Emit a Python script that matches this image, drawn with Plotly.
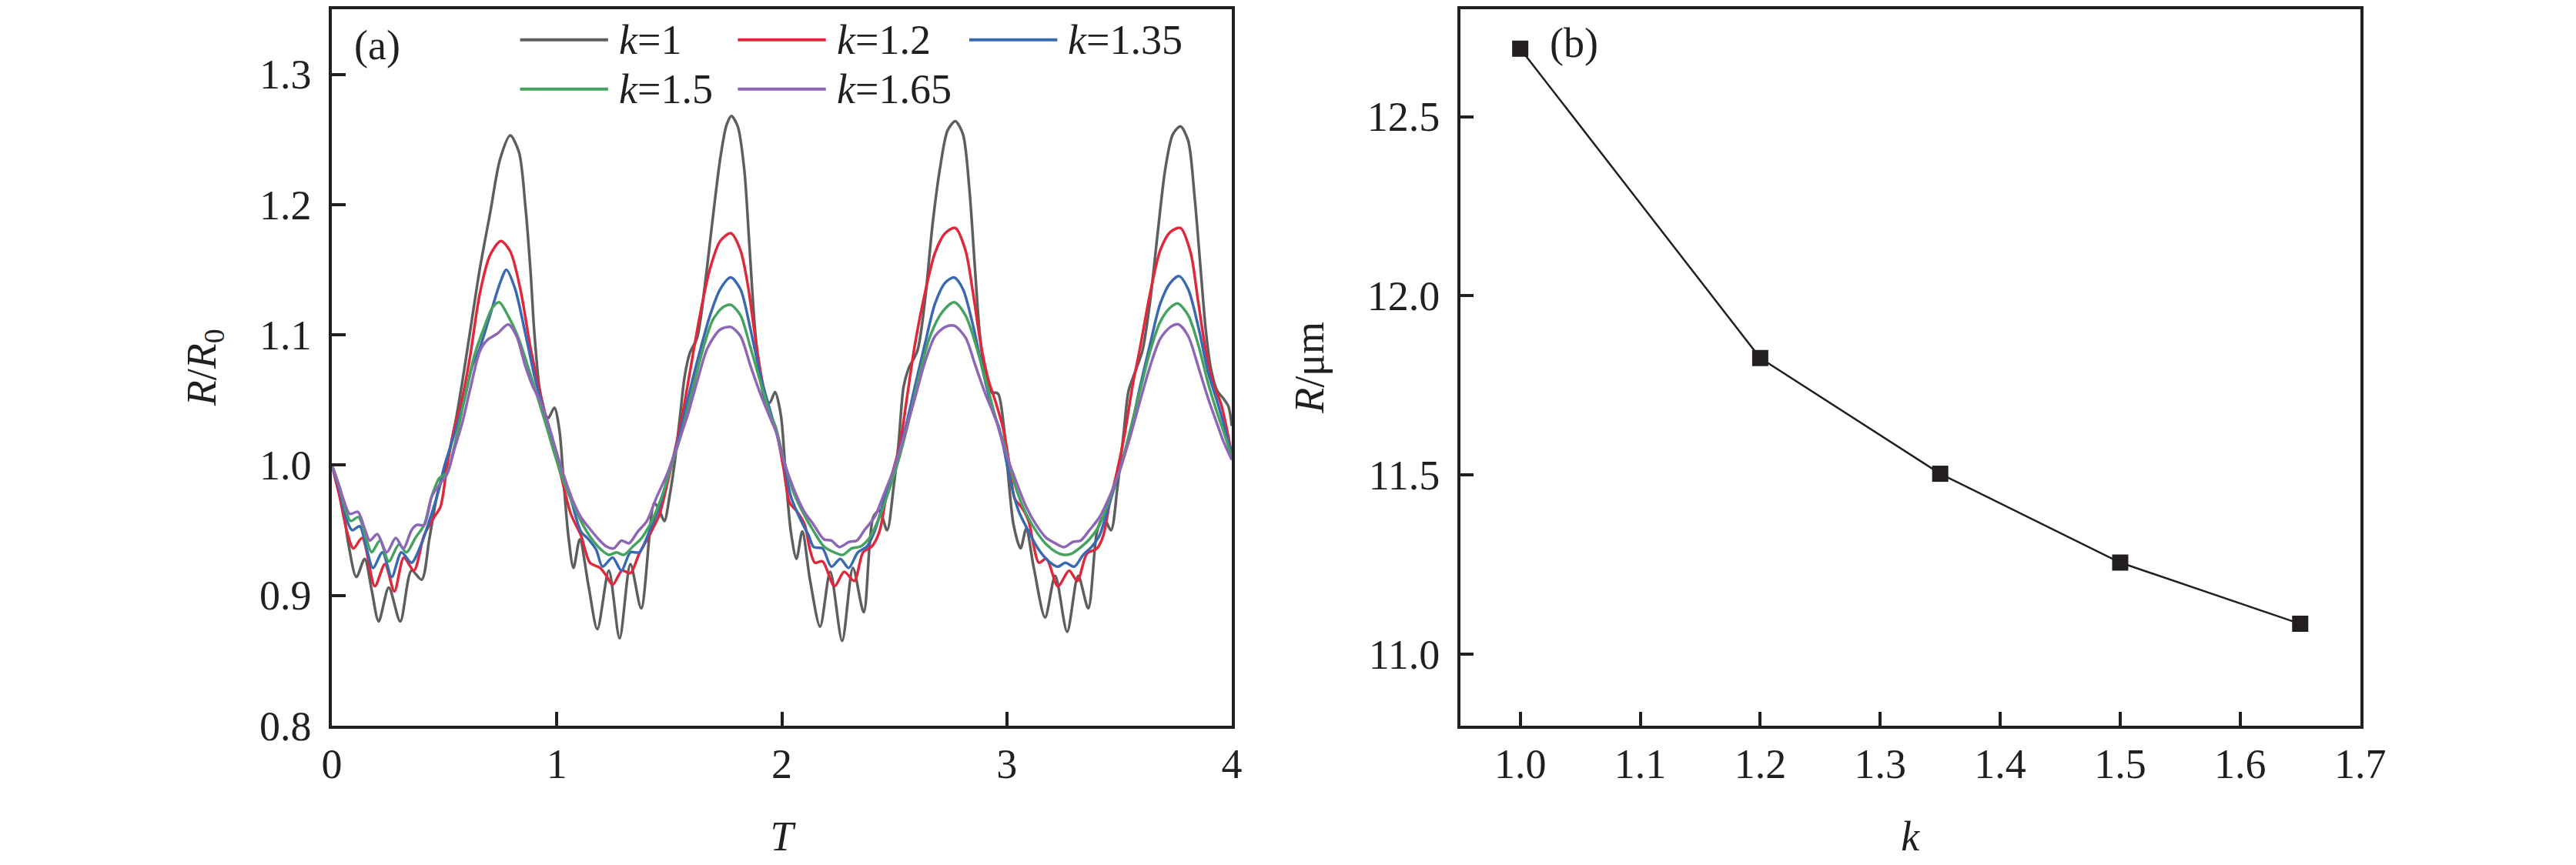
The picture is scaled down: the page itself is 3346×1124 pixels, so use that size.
import plotly.graph_objects as go

# ---- panel (a): R/R0 versus T for five k values ----
T_K1 = [0, 0.039, 0.073, 0.109, 0.146, 0.177, 0.208, 0.253, 0.304, 0.354, 0.399, 0.433, 0.467,
        0.506, 0.545, 0.579, 0.613, 0.658, 0.703, 0.748, 0.793, 0.832, 0.860, 0.883, 0.899, 0.922,
        0.944, 0.962, 0.989, 1.012, 1.029, 1.051, 1.074, 1.102, 1.141, 1.180, 1.231, 1.279, 1.327,
        1.375, 1.433, 1.456, 1.478, 1.501, 1.523, 1.546, 1.568, 1.591, 1.624, 1.658, 1.692, 1.726,
        1.754, 1.776, 1.804, 1.833, 1.855, 1.878, 1.900, 1.928, 1.947, 1.970, 1.996, 2.018, 2.040,
        2.065, 2.091, 2.125, 2.170, 2.215, 2.268, 2.316, 2.364, 2.406, 2.434, 2.468, 2.496, 2.518,
        2.541, 2.563, 2.603, 2.636, 2.670, 2.704, 2.737, 2.771, 2.805, 2.833, 2.856, 2.878, 2.901,
        2.929, 2.960, 2.985, 3.007, 3.030, 3.061, 3.086, 3.120, 3.170, 3.215, 3.268, 3.317, 3.362,
        3.401, 3.429, 3.463, 3.491, 3.519, 3.541, 3.569, 3.603, 3.637, 3.671, 3.704, 3.738, 3.772,
        3.806, 3.834, 3.862, 3.884, 3.907, 3.935, 3.963, 3.985, 4.000]
R_K1 = [1.000, 0.979, 0.940, 0.914, 0.928, 0.904, 0.880, 0.906, 0.880, 0.919, 0.912, 0.943, 0.976,
        0.999, 1.029, 1.063, 1.101, 1.151, 1.193, 1.235, 1.253, 1.240, 1.199, 1.149, 1.104, 1.060,
        1.040, 1.036, 1.044, 1.026, 0.990, 0.946, 0.921, 0.943, 0.907, 0.874, 0.919, 0.867, 0.924,
        0.890, 0.971, 0.965, 0.957, 0.976, 1.001, 1.035, 1.068, 1.086, 1.098, 1.138, 1.188, 1.235,
        1.261, 1.268, 1.260, 1.227, 1.171, 1.110, 1.071, 1.049, 1.048, 1.056, 1.038, 0.990, 0.949,
        0.928, 0.949, 0.912, 0.876, 0.918, 0.865, 0.921, 0.887, 0.960, 0.965, 0.950, 0.982, 1.015,
        1.060, 1.074, 1.088, 1.126, 1.185, 1.229, 1.257, 1.264, 1.254, 1.213, 1.157, 1.104, 1.071,
        1.056, 1.055, 1.032, 0.990, 0.954, 0.936, 0.951, 0.921, 0.883, 0.915, 0.872, 0.915, 0.890,
        0.949, 0.960, 0.950, 0.982, 1.024, 1.057, 1.071, 1.088, 1.126, 1.179, 1.227, 1.254, 1.260,
        1.249, 1.207, 1.149, 1.104, 1.074, 1.057, 1.051, 1.045, 1.030]

T_K12 = [0, 0.034, 0.067, 0.096, 0.135, 0.191, 0.236, 0.278, 0.320, 0.365, 0.410, 0.455, 0.483,
         0.512, 0.545, 0.579, 0.613, 0.658, 0.703, 0.751, 0.793, 0.838, 0.883, 0.916, 0.950, 0.984,
         1.017, 1.062, 1.107, 1.147, 1.192, 1.220, 1.248, 1.290, 1.327, 1.366, 1.411, 1.456, 1.490,
         1.523, 1.557, 1.591, 1.636, 1.681, 1.726, 1.773, 1.816, 1.849, 1.877, 1.906, 1.939, 1.973,
         2.007, 2.035, 2.069, 2.102, 2.125, 2.147, 2.181, 2.234, 2.277, 2.322, 2.361, 2.400, 2.434,
         2.462, 2.490, 2.524, 2.558, 2.592, 2.636, 2.681, 2.726, 2.771, 2.816, 2.850, 2.884, 2.917,
         2.951, 2.985, 3.013, 3.035, 3.064, 3.097, 3.120, 3.142, 3.176, 3.227, 3.277, 3.313, 3.356,
         3.401, 3.429, 3.457, 3.491, 3.524, 3.558, 3.592, 3.637, 3.682, 3.727, 3.772, 3.817, 3.850,
         3.884, 3.918, 3.952, 3.975, 4.000]
R_K12 = [1.000, 0.976, 0.949, 0.936, 0.944, 0.907, 0.924, 0.903, 0.929, 0.919, 0.946, 0.960, 0.968,
         0.999, 1.029, 1.051, 1.082, 1.132, 1.161, 1.172, 1.164, 1.135, 1.090, 1.063, 1.038, 1.015,
         0.993, 0.9625, 0.946, 0.925, 0.921, 0.915, 0.908, 0.919, 0.917, 0.932, 0.946, 0.962, 0.985,
         1.010, 1.0375, 1.071, 1.115, 1.151, 1.172, 1.178, 1.165, 1.138, 1.104, 1.071, 1.043, 1.028,
         0.998, 0.971, 0.964, 0.954, 0.935, 0.925, 0.926, 0.907, 0.918, 0.911, 0.933, 0.9375, 0.949,
         0.974, 0.993, 1.015, 1.054, 1.093, 1.132, 1.163, 1.178, 1.182, 1.165, 1.132, 1.093, 1.066,
         1.048, 1.027, 0.999, 0.974, 0.968, 0.957, 0.9375, 0.925, 0.928, 0.907, 0.919, 0.911, 0.932,
         0.936, 0.946, 0.971, 0.996, 1.024, 1.060, 1.090, 1.132, 1.165, 1.179, 1.182, 1.163, 1.126,
         1.088, 1.0625, 1.047, 1.030, 1.008]

T_K135 = [0, 0.034, 0.062, 0.090, 0.124, 0.152, 0.183, 0.225, 0.266, 0.309, 0.354, 0.399, 0.433,
          0.467, 0.500, 0.545, 0.590, 0.624, 0.658, 0.703, 0.748, 0.776, 0.815, 0.860, 0.905, 0.950,
          0.995, 1.029, 1.062, 1.107, 1.141, 1.175, 1.203, 1.248, 1.287, 1.327, 1.366, 1.411, 1.456,
          1.501, 1.546, 1.591, 1.636, 1.681, 1.726, 1.773, 1.816, 1.861, 1.906, 1.951, 1.978, 2.007,
          2.040, 2.086, 2.119, 2.142, 2.181, 2.220, 2.260, 2.297, 2.338, 2.378, 2.412, 2.456, 2.502,
          2.546, 2.591, 2.636, 2.681, 2.726, 2.766, 2.805, 2.850, 2.895, 2.940, 2.963, 2.985, 3.019,
          3.052, 3.097, 3.142, 3.187, 3.227, 3.260, 3.300, 3.339, 3.378, 3.412, 3.457, 3.502, 3.547,
          3.592, 3.637, 3.682, 3.727, 3.766, 3.806, 3.850, 3.895, 3.940, 3.963, 4.000]
R_K135 = [1.000, 0.981, 0.960, 0.950, 0.953, 0.9375, 0.921, 0.933, 0.914, 0.933, 0.925, 0.940, 0.957,
          0.976, 0.999, 1.024, 1.051, 1.076, 1.090, 1.115, 1.140, 1.150, 1.135, 1.101, 1.065, 1.0375,
          1.011, 0.990, 0.974, 0.949, 0.943, 0.935, 0.922, 0.929, 0.919, 0.933, 0.933, 0.949, 0.968,
          0.996, 1.024, 1.057, 1.0875, 1.115, 1.135, 1.144, 1.135, 1.104, 1.068, 1.040, 1.024, 1.004,
          0.976, 0.957, 0.946, 0.937, 0.936, 0.922, 0.928, 0.921, 0.933, 0.9375, 0.949, 0.974, 0.999,
          1.026, 1.060, 1.093, 1.124, 1.140, 1.144, 1.135, 1.107, 1.071, 1.040, 1.030, 1.014, 0.985,
          0.965, 0.949, 0.935, 0.926, 0.922, 0.925, 0.922, 0.931, 0.9375, 0.946, 0.971, 0.996, 1.024,
          1.060, 1.093, 1.124, 1.140, 1.145, 1.135, 1.107, 1.071, 1.046, 1.032, 1.008]

T_K15 = [0, 0.034, 0.062, 0.084, 0.118, 0.152, 0.177, 0.214, 0.253, 0.298, 0.332, 0.371, 0.410,
         0.444, 0.478, 0.512, 0.545, 0.590, 0.635, 0.680, 0.714, 0.744, 0.782, 0.826, 0.871, 0.916,
         0.950, 0.989, 1.029, 1.062, 1.107, 1.152, 1.197, 1.231, 1.265, 1.298, 1.338, 1.377, 1.422,
         1.467, 1.512, 1.557, 1.602, 1.647, 1.692, 1.737, 1.773, 1.816, 1.861, 1.906, 1.951, 1.973,
         2.007, 2.052, 2.097, 2.142, 2.187, 2.232, 2.271, 2.310, 2.350, 2.389, 2.434, 2.479, 2.524,
         2.569, 2.614, 2.659, 2.715, 2.766, 2.816, 2.861, 2.906, 2.951, 2.990, 3.041, 3.086, 3.131,
         3.176, 3.221, 3.255, 3.288, 3.322, 3.367, 3.412, 3.457, 3.502, 3.547, 3.592, 3.637, 3.682,
         3.727, 3.761, 3.806, 3.850, 3.895, 3.940, 3.963, 4.000]
R_K15 = [1.000, 0.983, 0.965, 0.957, 0.960, 0.944, 0.933, 0.942, 0.926, 0.939, 0.933, 0.944, 0.954,
         0.976, 0.990, 0.994, 1.015, 1.051, 1.085, 1.107, 1.121, 1.125, 1.115, 1.099, 1.076, 1.051,
         1.032, 1.009, 0.9875, 0.974, 0.957, 0.944, 0.935, 0.931, 0.933, 0.931, 0.9375, 0.944, 0.957,
         0.976, 1.001, 1.026, 1.057, 1.0875, 1.111, 1.121, 1.123, 1.115, 1.090, 1.063, 1.0375, 1.029,
         1.005, 0.979, 0.9625, 0.949, 0.9375, 0.933, 0.931, 0.936, 0.9375, 0.944, 0.960, 0.982, 1.007,
         1.0375, 1.071, 1.099, 1.118, 1.125, 1.115, 1.093, 1.065, 1.036, 1.015, 0.982, 0.9625, 0.949,
         0.939, 0.933, 0.931, 0.932, 0.936, 0.943, 0.954, 0.974, 0.996, 1.026, 1.057, 1.0875, 1.110,
         1.121, 1.124, 1.115, 1.093, 1.0625, 1.0375, 1.026, 1.006]

T_K165 = [0, 0.028, 0.051, 0.079, 0.116, 0.146, 0.169, 0.202, 0.244, 0.284, 0.318, 0.354, 0.377,
          0.410, 0.444, 0.478, 0.512, 0.545, 0.579, 0.613, 0.658, 0.691, 0.736, 0.784, 0.821, 0.860,
          0.894, 0.927, 0.961, 0.995, 1.029, 1.068, 1.107, 1.147, 1.186, 1.220, 1.253, 1.287, 1.321,
          1.360, 1.400, 1.445, 1.490, 1.535, 1.580, 1.625, 1.670, 1.726, 1.773, 1.816, 1.861, 1.906,
          1.951, 1.973, 2.007, 2.052, 2.097, 2.142, 2.187, 2.220, 2.256, 2.299, 2.333, 2.367, 2.412,
          2.457, 2.502, 2.546, 2.591, 2.636, 2.681, 2.726, 2.766, 2.816, 2.861, 2.906, 2.951, 2.990,
          3.041, 3.086, 3.131, 3.176, 3.215, 3.255, 3.294, 3.328, 3.367, 3.412, 3.457, 3.502, 3.547,
          3.592, 3.637, 3.682, 3.727, 3.763, 3.806, 3.850, 3.895, 3.940, 3.963, 4.000]
R_K165 = [1.000, 0.986, 0.974, 0.9625, 0.964, 0.951, 0.942, 0.947, 0.933, 0.944, 0.936, 0.950, 0.954,
          0.954, 0.976, 0.985, 0.993, 1.0125, 1.032, 1.057, 1.0875, 1.096, 1.101, 1.108, 1.099, 1.076,
          1.060, 1.049, 1.032, 1.012, 0.993, 0.974, 0.960, 0.951, 0.943, 0.9375, 0.936, 0.942, 0.940,
          0.949, 0.957, 0.976, 0.993, 1.015, 1.0375, 1.065, 1.090, 1.104, 1.106, 1.099, 1.076, 1.054,
          1.035, 1.026, 1.004, 0.982, 0.965, 0.954, 0.943, 0.942, 0.937, 0.941, 0.942, 0.950, 0.960,
          0.979, 0.999, 1.024, 1.051, 1.079, 1.099, 1.106, 1.107, 1.098, 1.076, 1.054, 1.035, 1.012,
          0.9875, 0.968, 0.954, 0.944, 0.940, 0.937, 0.941, 0.942, 0.950, 0.960, 0.976, 0.996, 1.021,
          1.049, 1.076, 1.097, 1.106, 1.108, 1.099, 1.076, 1.051, 1.029, 1.018, 1.004]

SERIES_NAMES = ["<i>k</i>=1", "<i>k</i>=1.2", "<i>k</i>=1.35", "<i>k</i>=1.5", "<i>k</i>=1.65"]
SERIES_T = [T_K1, T_K12, T_K135, T_K15, T_K165]
SERIES_R = [R_K1, R_K12, R_K135, R_K15, R_K165]
SERIES_COLORS = ["#5e5e5e", "#e0283c", "#3b68b2", "#45a35f", "#8e66b6"]

# ---- panel (b): bubble radius versus k ----
K_VALUES = [1.0, 1.2, 1.35, 1.5, 1.65]
R_UM = [12.69, 11.826, 11.503, 11.255, 11.084]

W, H = 3346, 1124
FONT = "Liberation Serif, Times New Roman, Times, serif"
INK = "#231f20"
FS = 54

fig = go.Figure()

for name, tt, rr, color in zip(SERIES_NAMES, SERIES_T, SERIES_R, SERIES_COLORS):
    fig.add_trace(go.Scatter(
        x=tt, y=rr, name=name, mode="lines",
        line=dict(color=color, width=3.5, shape="spline", smoothing=0.8),
        xaxis="x", yaxis="y", showlegend=False,
    ))

fig.add_trace(go.Scatter(
    x=K_VALUES, y=R_UM, mode="lines+markers",
    line=dict(color=INK, width=2.5),
    marker=dict(symbol="square", size=21, color=INK),
    xaxis="x2", yaxis="y2", showlegend=False,
))

axis_style = dict(
    showline=True, linecolor=INK, linewidth=3.5, mirror=True,
    ticks="inside", ticklen=18, tickwidth=3.5, tickcolor=INK,
    showgrid=False, zeroline=False,
    tickfont=dict(family=FONT, size=FS, color=INK),
    title_font=dict(family=FONT, size=FS, color=INK),
)

top = 1 - 2 / H
bottom = 1 - 961 / H

fig.update_layout(
    width=W, height=H,
    margin=dict(l=0, r=0, t=0, b=0),
    paper_bgcolor="white", plot_bgcolor="white",
    font=dict(family=FONT, size=FS, color=INK),
    xaxis=dict(domain=[415 / W, 1601 / W], range=[0, 4], dtick=1, anchor="y",
               title=dict(text="<i>T</i>", standoff=46), **axis_style),
    yaxis=dict(domain=[bottom, top], range=[0.8, 1.35], dtick=0.1, tickformat=".1f",
               anchor="x", ticklabelstandoff=12,
               title=dict(text="<i>R</i>/<i>R</i><sub>0</sub>", standoff=40), **axis_style),
    xaxis2=dict(domain=[1902 / W, 3088 / W], range=[0.95, 1.7], dtick=0.1, tickformat=".1f",
                anchor="y2", title=dict(text="<i>k</i>", standoff=46), **axis_style),
    yaxis2=dict(domain=[bottom, top], range=[10.8, 12.8], tickvals=[11.0, 11.5, 12.0, 12.5],
                tickformat=".1f", anchor="x2", ticklabelstandoff=12,
                title=dict(text="<i>R</i>/μm", standoff=40), **axis_style),
)

# panel tags
fig.add_annotation(x=442 / W, y=1 - 50 / H, xref="paper", yref="paper", text="(a)",
                   showarrow=False, xanchor="left", yanchor="middle",
                   font=dict(family=FONT, size=FS, color=INK))
fig.add_annotation(x=2018 / W, y=1 - 47 / H, xref="paper", yref="paper", text="(b)",
                   showarrow=False, xanchor="left", yanchor="middle",
                   font=dict(family=FONT, size=FS, color=INK))

# legend drawn inside panel (a): three columns, two rows
LEG_COL_X = [663, 950, 1255]
LEG_ROW_Y = [43, 109]
LEG_LINE_LEN = 116
for i, (name, color) in enumerate(zip(SERIES_NAMES, SERIES_COLORS)):
    cx = LEG_COL_X[i % 3]
    cy = LEG_ROW_Y[i // 3]
    fig.add_shape(type="line", xref="paper", yref="paper",
                  x0=cx / W, x1=(cx + LEG_LINE_LEN) / W, y0=1 - cy / H, y1=1 - cy / H,
                  line=dict(color=color, width=4))
    fig.add_annotation(x=(cx + LEG_LINE_LEN + 12) / W, y=1 - cy / H, xref="paper", yref="paper",
                       text=name, showarrow=False, xanchor="left", yanchor="middle",
                       font=dict(family=FONT, size=FS, color=INK))

fig.write_html("out.html")
